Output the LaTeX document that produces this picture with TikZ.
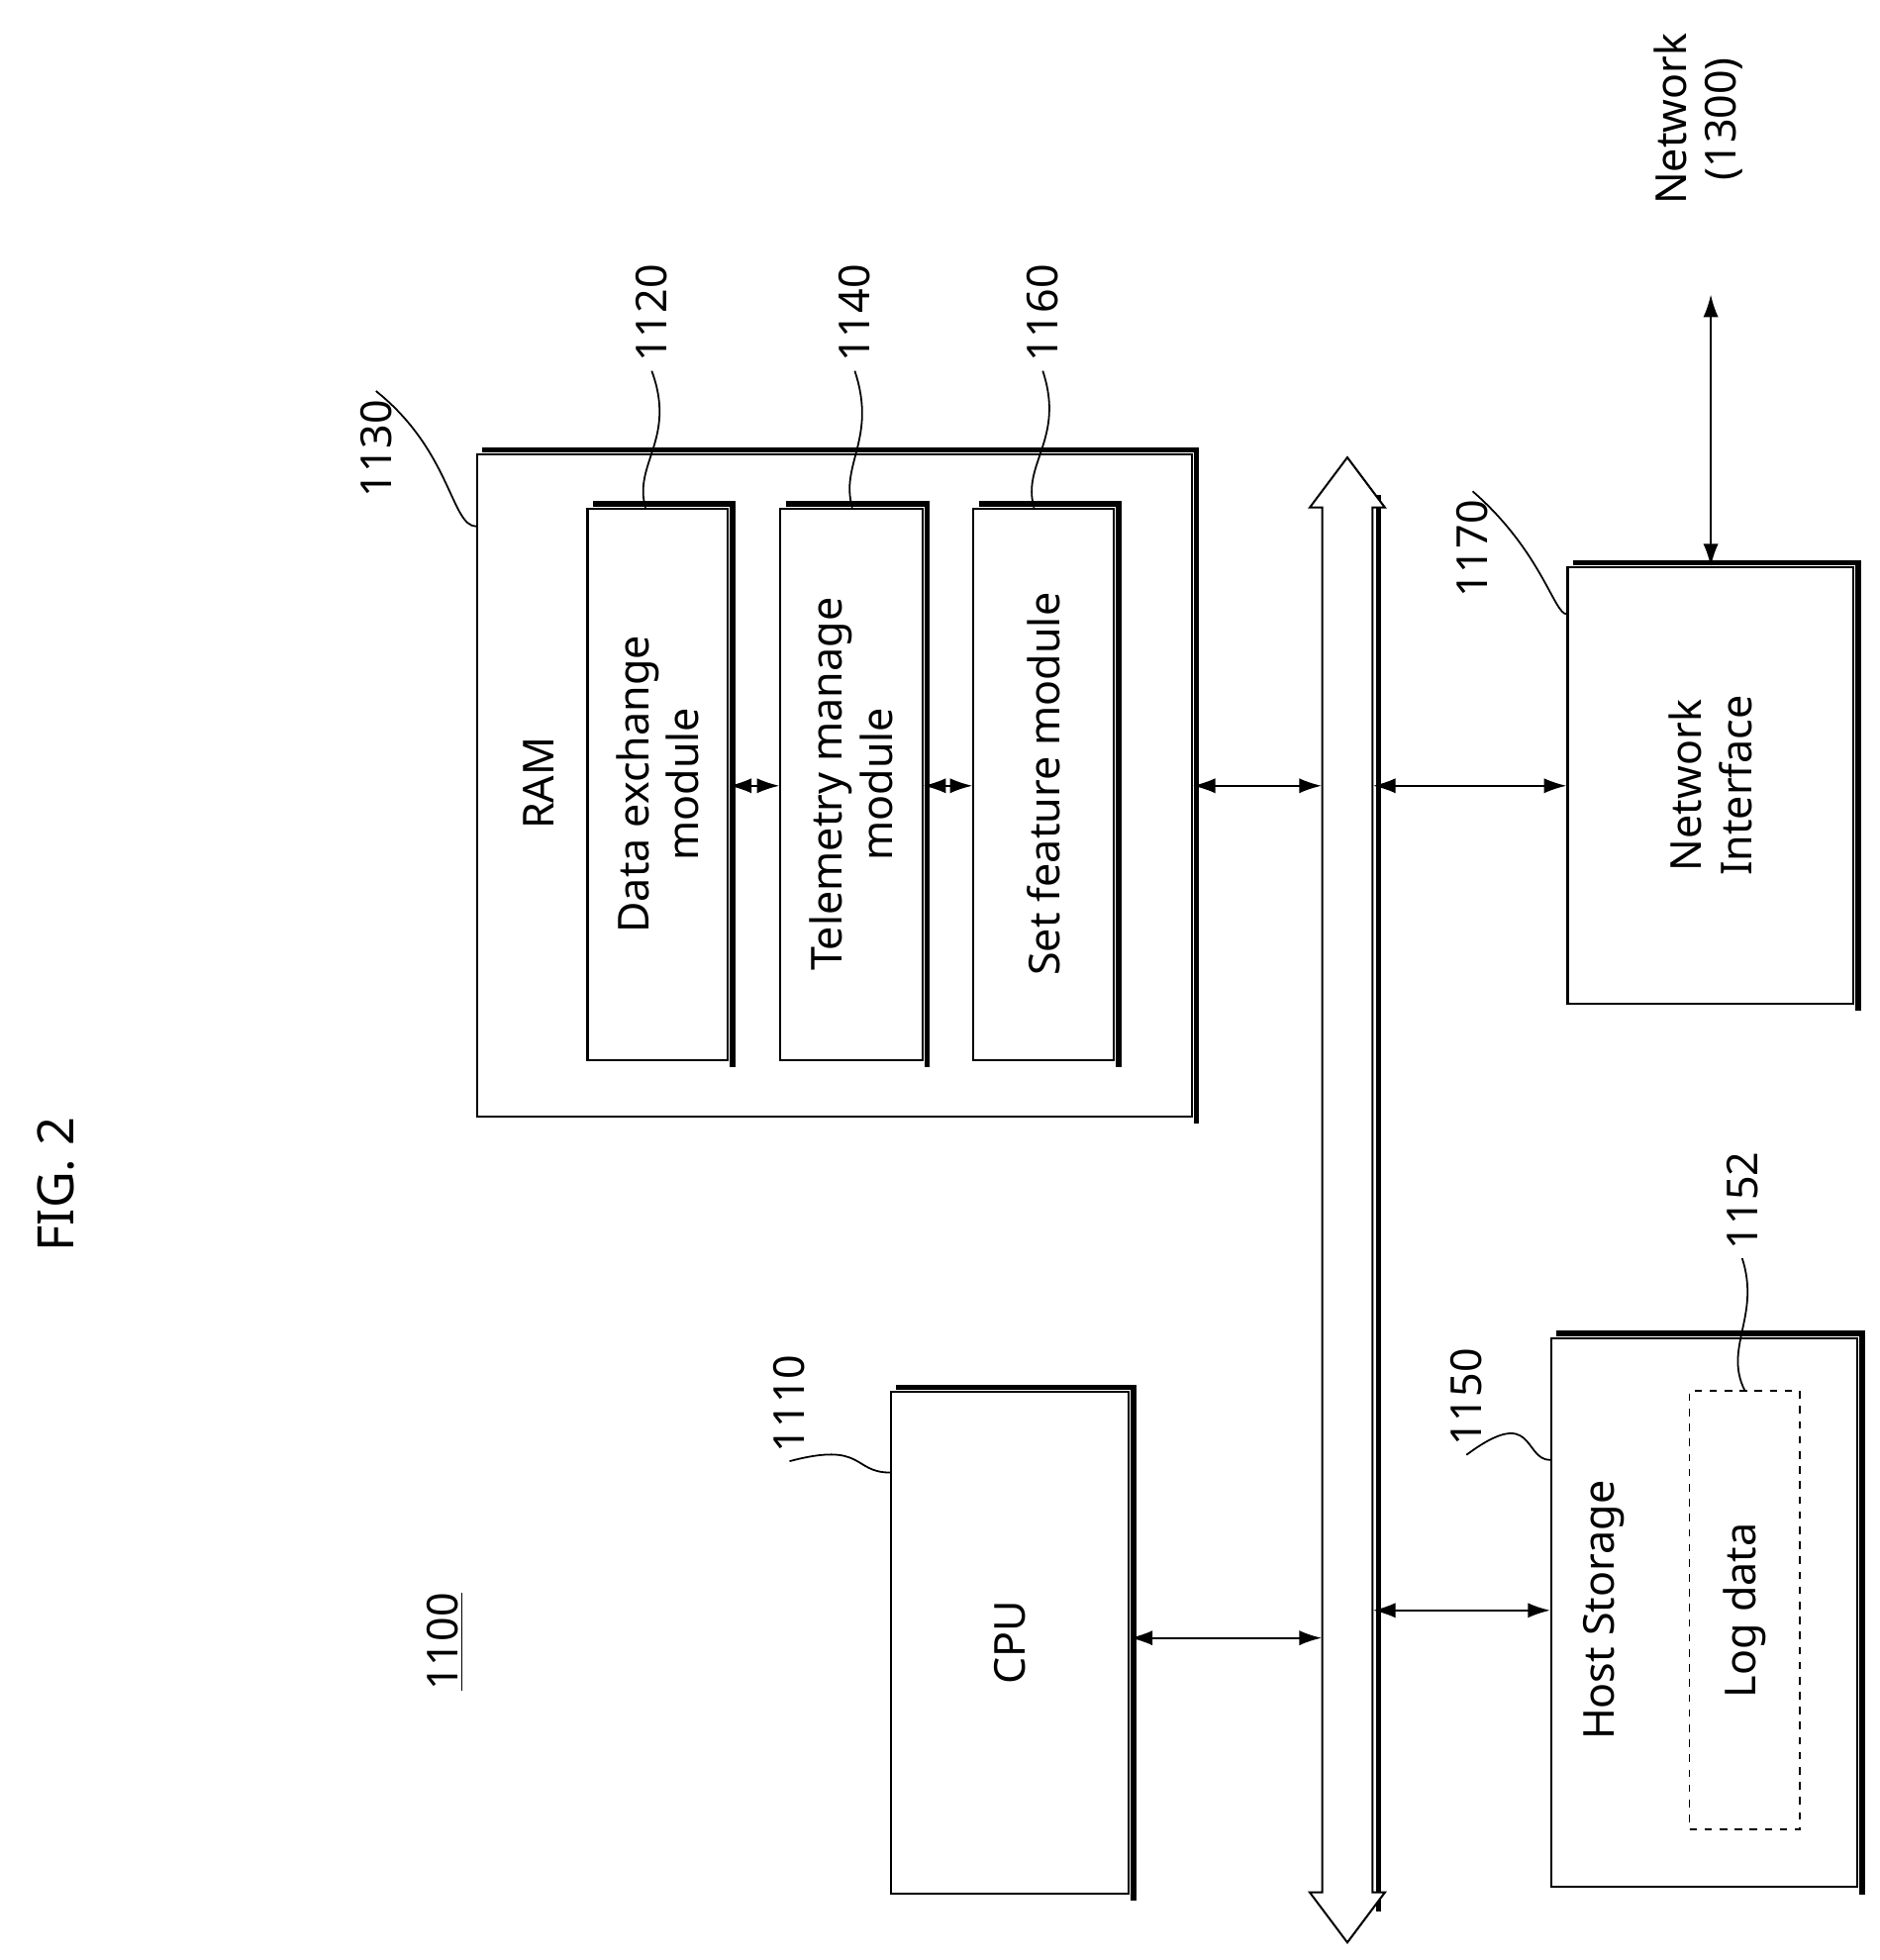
\documentclass[tikz,border=0pt]{standalone}
\usepackage{fontspec}
\setmainfont{Noto Sans}
\usetikzlibrary{arrows.meta,calc}
\begin{document}
\begin{tikzpicture}[x=0.5pt,y=-0.5pt,
 box/.style={draw,line width=0.8pt,inner sep=0,anchor=north west},
 sh/.style={line width=2.2pt},
 lab/.style={rotate=90,font=\fontsize{17}{20}\selectfont,align=center},
 num/.style={rotate=90,font=\fontsize{17}{20}\selectfont},
 arr/.style={{Latex[length=9pt,width=6pt]}-{Latex[length=9pt,width=6pt]},line width=0.8pt},
 lead/.style={line width=0.7pt}]
\useasboundingbox (0,0) rectangle (1500,1564);
\newcommand{\bx}[5]{\node[box,minimum width=#4*0.5pt,minimum height=#5*0.5pt] (#1) at (#2,#3) {};
 \draw[sh] ($(#1.north west)+(5,-3)$) -| ($(#1.south east)+(3,5)$);}
\node[num,font=\fontsize{20}{24}\selectfont] (fig) at (45,945) {FIG. 2};
\node[num] (sys) at (355,1310) {\underline{1100}};
% boxes
\bx{cpu}{710}{1110}{190}{400}
\bx{ram}{380}{362}{570}{528}
\bx{m1}{468}{405}{112}{440}
\bx{m2}{622}{405}{113}{440}
\bx{m3}{776}{405}{112}{440}
\bx{ni}{1250}{452}{228}{348}
\bx{hs}{1237}{1067}{244}{438}
\node[draw,dashed,line width=0.7pt,minimum width=44pt,minimum height=175pt] (log) at (1392,1285) {};
% texts
\node[lab] (tcpu) at (cpu.center) {CPU};
\node[lab] (tram) at (430,625) {RAM};
\node[lab] (t1) at (m1.center) {Data exchange\\module};
\node[lab] (t2) at (m2.center) {Telemetry manage\\module};
\node[lab] (t3) at (m3.center) {Set feature module};
\node[lab] (tni) at (ni.center) {Network\\Interface};
\node[lab] (ths) at (1280,1285) {Host Storage};
\node[lab] (tlog) at (log.center) {Log data};
\node[lab] (tnet) at (1355,95) {Network\\(1300)};
% bus
\node[minimum width=20pt,minimum height=570pt,inner sep=0] (bus) at (1075,957) {};
\draw[sh] (1100,395) -- (1100,1525);
\draw[line width=0.8pt,fill=white] (1055,405) -- (1045,405) -- (1075,365) -- (1105,405) -- (1095,405) -- (1095,1510) -- (1105,1510) -- (1075,1550) -- (1045,1510) -- (1055,1510) -- cycle;
% arrows
\draw[arr] (m1.east|-0,627) -- (m2.west|-0,627);
\draw[arr] (m2.east|-0,627) -- (m3.west|-0,627);
\draw[arr] (ram.east|-0,627) -- (bus.west|-0,627);
\draw[arr] (bus.east|-0,627) -- (ni.west|-0,627);
\draw[arr] (cpu.east|-0,1307) -- (bus.west|-0,1307);
\draw[arr] (bus.east|-0,1285) -- (hs.west|-0,1285);
\coordinate (netend) at (1365,235);
\draw[arr] (ni.north-|1365,0) -- (netend);
% numbers and leaders
\node[num] (n1110) at (630,1120) {1110};
\draw[lead] (n1110.west) .. controls (690,1150) and (680,1175) .. (cpu.north west|-0,1175);
\node[num] (n1130) at (300,358) {1130};
\draw[lead] (n1130.east) .. controls (360,360) and (360,420) .. (ram.north west|-0,420);
\node[num] (n1120) at (520,250) {1120};
\draw[lead] (n1120.west) .. controls (540,350) and (505,370) .. (515,405);
\node[num] (n1140) at (682,250) {1140};
\draw[lead] (n1140.west) .. controls (700,350) and (670,370) .. (680,405);
\node[num] (n1160) at (832,250) {1160};
\draw[lead] (n1160.west) .. controls (850,350) and (815,370) .. (825,405);
\node[num] (n1170) at (1175,438) {1170};
\draw[lead] (n1170.east) .. controls (1230,440) and (1240,490) .. (ni.north west|-0,490);
\node[num] (n1150) at (1170,1115) {1150};
\draw[lead] (n1150.west) .. controls (1225,1120) and (1215,1165) .. (hs.north west|-0,1165);
\node[num] (n1152) at (1390,958) {1152};
\draw[lead] (n1152.west) .. controls (1405,1050) and (1375,1075) .. (log.north);
\end{tikzpicture}
\end{document}
